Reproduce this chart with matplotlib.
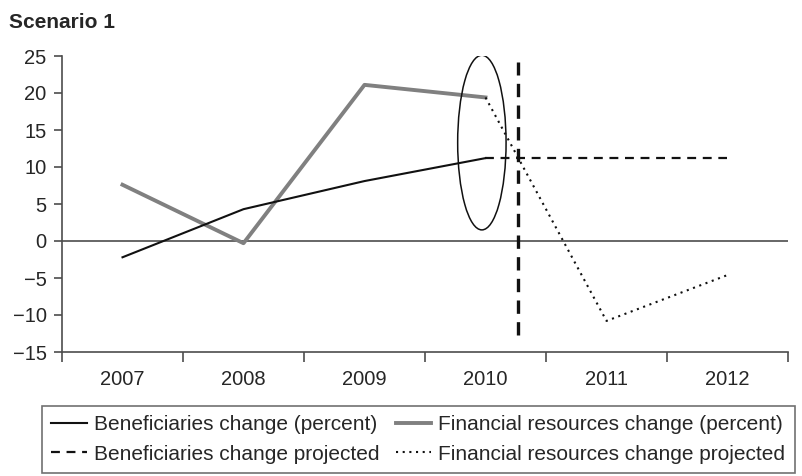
import matplotlib
matplotlib.use("Agg")
import matplotlib.pyplot as plt
from matplotlib.patches import Ellipse
from matplotlib.lines import Line2D

plt.rcParams["font.family"] = ["Liberation Sans", "DejaVu Sans"]

years = ["2007", "2008", "2009", "2010", "2011", "2012"]
beneficiaries = [-2.2, 4.3, 8.1, 11.2]
financial = [7.6, -0.3, 21.1, 19.4]
beneficiaries_proj = [11.2, 11.2, 11.2]
financial_proj = [19.4, -10.8, -4.6]

# projection cut-off marker and highlight ellipse (data coords)
cutoff_x = 3.27
cutoff_y = (-12.7, 24.2)
ellipse_center = (2.97, 13.3)
ellipse_size = (0.4, 23.6)

GREY = "#808080"
AXIS = "#4d4d4d"
TXT = "#262626"

fig = plt.figure(figsize=(8.03, 4.76), dpi=100)
ax = fig.add_axes([62 / 803, 1 - 352 / 476, (788 - 62) / 803, (352 - 56) / 476])

x_hist = list(range(len(beneficiaries)))
x_proj = list(range(3, 3 + len(beneficiaries_proj)))

ax.plot(x_hist, beneficiaries, color="#111111", lw=1.5, zorder=4)
ax.plot(x_hist, financial, color=GREY, lw=2.8, zorder=3)
ax.plot(x_proj, beneficiaries_proj, color="#111111", lw=1.6, ls=(0, (4, 3)), zorder=4)
ax.plot(x_proj, financial_proj, color="#111111", lw=1.5, ls=(0, (1, 2.2)), zorder=4)

ax.plot([cutoff_x, cutoff_x], cutoff_y, color="#111111", lw=2.4, ls=(0, (4, 2.5)), zorder=5)
ax.add_patch(Ellipse(ellipse_center, ellipse_size[0], ellipse_size[1], fill=False,
                     ec="#111111", lw=1.1, zorder=5))

ax.axhline(0, color=AXIS, lw=1.2, zorder=2)

ax.set_xlim(-0.5, 5.5)
ax.set_ylim(-15, 25)
ax.set_yticks(range(-15, 26, 5))
ax.set_yticklabels([str(v).replace("-", "\u2212") for v in range(-15, 26, 5)])
ax.set_xticks(range(len(years)))
ax.set_xticklabels(years)
ax.set_xticks([i - 0.5 for i in range(len(years) + 1)], minor=True)
ax.tick_params(axis="x", which="major", length=0, pad=13, labelsize=14.5, colors=TXT)
ax.tick_params(axis="x", which="minor", length=7, width=1.2, color=AXIS)
ax.tick_params(axis="y", length=6, width=1.2, pad=5, color=AXIS, labelsize=14.5,
               labelcolor=TXT)

for side in ("top", "right"):
    ax.spines[side].set_visible(False)
for side in ("left", "bottom"):
    ax.spines[side].set_color(AXIS)
    ax.spines[side].set_linewidth(1.2)

fig.text(9 / 803, 1 - 23 / 476, "Scenario 1", fontsize=15, fontweight="bold",
         va="center", ha="left", color=TXT)

handles = [
    Line2D([], [], color="#111111", lw=1.5),
    Line2D([], [], color="#111111", lw=1.6, ls=(0, (4, 3))),
    Line2D([], [], color=GREY, lw=2.8),
    Line2D([], [], color="#111111", lw=1.5, ls=(0, (1, 2.2))),
]
labels = [
    "Beneficiaries change (percent)",
    "Beneficiaries change projected",
    "Financial resources change (percent)",
    "Financial resources change projected",
]
leg = fig.legend(handles, labels, ncol=2, loc="upper left",
                 bbox_to_anchor=(42 / 803, 1 - 406 / 476), frameon=True,
                 fancybox=False, fontsize=15, handlelength=1.7,
                 handletextpad=0.33, columnspacing=0.8, labelspacing=0.5,
                 borderpad=0.45, borderaxespad=0)
leg.get_frame().set_edgecolor(AXIS)
leg.get_frame().set_linewidth(1.2)
for t in leg.get_texts():
    t.set_color(TXT)

fig.savefig("out.png", dpi=100)
